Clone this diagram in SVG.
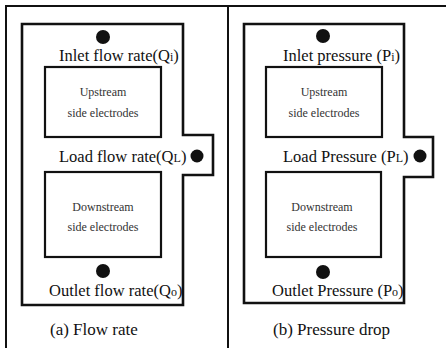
<svg xmlns="http://www.w3.org/2000/svg" width="446" height="348" viewBox="0 0 446 348">
<style>
.frame{fill:none;stroke:#111;stroke-width:2}
.chan{fill:none;stroke:#111;stroke-width:2.6;stroke-linejoin:miter}
.box{fill:#fff;stroke:#111;stroke-width:2.2}
.dot{fill:#111}
.lbl{font-family:"Liberation Serif","Times New Roman",serif;font-size:16.5px;fill:#111}
.sub{font-size:12px}
.el{font-family:"Liberation Serif","Times New Roman",serif;font-size:12px;fill:#333;text-anchor:middle}
.cap{font-family:"Liberation Serif","Times New Roman",serif;font-size:17px;fill:#111}
</style>
<rect width="446" height="348" fill="#fff"/>
<g id="frame">
<path class="frame" d="M6,348 V6 H446"/>
<path class="frame" d="M228,6 V348"/>
</g>
<g id="panel-a">
<path class="chan" d="M22,24 H183 V135 H213 V175 H183 V305 H22 Z"/>
<g id="a-upstream"><rect class="box" x="45" y="67" width="116" height="70"/><text class="el" x="103" y="96">Upstream</text><text class="el" x="103" y="117">side electrodes</text></g>
<g id="a-downstream"><rect class="box" x="45" y="172" width="116" height="85"/><text class="el" x="103" y="211">Downstream</text><text class="el" x="103" y="231">side electrodes</text></g>
<g id="a-inlet"><circle class="dot" cx="103" cy="37" r="7"/><text class="lbl" x="59" y="61">Inlet flow rate(Q<tspan class="sub">i</tspan>)</text></g>
<g id="a-load"><circle class="dot" cx="197" cy="156" r="6.5"/><text class="lbl" x="59" y="162">Load flow rate(Q<tspan class="sub">L</tspan>)</text></g>
<g id="a-outlet"><circle class="dot" cx="103" cy="271" r="7"/><text class="lbl" x="49" y="296">Outlet flow rate(Q<tspan class="sub">o</tspan>)</text></g>
<text class="cap" x="50" y="335">(a) Flow rate</text>
</g>
<g id="panel-b">
<path class="chan" d="M244,24 H404 V137 H433 V177 H404 V303 H244 Z"/>
<g id="b-upstream"><rect class="box" x="266" y="67" width="116" height="70"/><text class="el" x="324" y="96">Upstream</text><text class="el" x="324" y="117">side electrodes</text></g>
<g id="b-downstream"><rect class="box" x="266" y="172" width="115" height="85"/><text class="el" x="322" y="211">Downstream</text><text class="el" x="322" y="231">side electrodes</text></g>
<g id="b-inlet"><circle class="dot" cx="323" cy="36" r="7"/><text class="lbl" x="283" y="61">Inlet pressure (P<tspan class="sub">i</tspan>)</text></g>
<g id="b-load"><circle class="dot" cx="420" cy="156" r="6.5"/><text class="lbl" x="283" y="162">Load Pressure (P<tspan class="sub">L</tspan>)</text></g>
<g id="b-outlet"><circle class="dot" cx="323" cy="272" r="7"/><text class="lbl" x="272" y="296">Outlet Pressure (P<tspan class="sub">o</tspan>)</text></g>
<text class="cap" x="273" y="335">(b) Pressure drop</text>
</g>
<g id="connectors"/>
</svg>
